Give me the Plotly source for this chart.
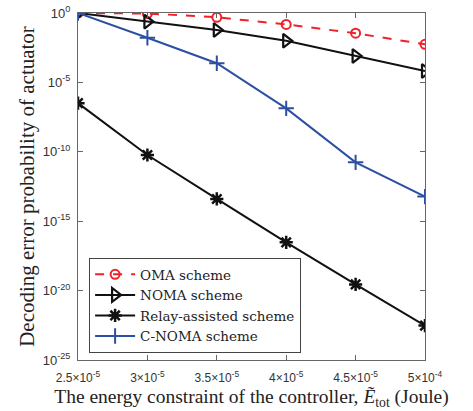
import plotly.graph_objects as go

x_vals = [2.5e-5, 3.0e-5, 3.5e-5, 4.0e-5, 4.5e-5, 5.0e-5]
x_tick_text = ["2.5×10<sup>-5</sup>", "3×10<sup>-5</sup>", "3.5×10<sup>-5</sup>",
               "4×10<sup>-5</sup>", "4.5×10<sup>-5</sup>", "5×10<sup>-4</sup>"]

oma = [1.0, 0.92, 0.49, 0.15, 0.035, 0.0055]
noma = [1.0, 0.24, 0.060, 0.010, 8.0e-4, 6.6e-5]
relay = [3.2e-7, 5.9e-11, 4.0e-14, 3.0e-17, 2.8e-20, 3.0e-23]
cnoma = [1.0, 0.0166, 2.4e-4, 1.35e-7, 1.74e-11, 5.9e-14]

y_tick_vals = [1e0, 1e-5, 1e-10, 1e-15, 1e-20, 1e-25]
y_tick_text = ["10<sup>0</sup>", "10<sup>-5</sup>", "10<sup>-10</sup>",
               "10<sup>-15</sup>", "10<sup>-20</sup>", "10<sup>-25</sup>"]

fig = go.Figure()
fig.add_trace(go.Scatter(x=x_vals, y=oma, name="OMA scheme", mode="lines+markers",
                         line=dict(color="#f2202a", width=2, dash="dash"),
                         marker=dict(symbol="circle-open", size=9, color="#f2202a",
                                     line=dict(width=2, color="#f2202a"))))
fig.add_trace(go.Scatter(x=x_vals, y=noma, name="NOMA scheme", mode="lines+markers",
                         line=dict(color="#111111", width=2),
                         marker=dict(symbol="triangle-right-open", size=12, color="#111111",
                                     line=dict(width=2.2, color="#111111"))))
fig.add_trace(go.Scatter(x=x_vals, y=relay, name="Relay-assisted scheme", mode="lines+markers",
                         line=dict(color="#111111", width=2),
                         marker=dict(symbol="asterisk-open", size=11, color="#111111",
                                     line=dict(width=2.5, color="#111111"))))
fig.add_trace(go.Scatter(x=x_vals, y=cnoma, name="C-NOMA scheme", mode="lines+markers",
                         line=dict(color="#2c4fa3", width=2),
                         marker=dict(symbol="cross-thin-open", size=11, color="#2c4fa3",
                                     line=dict(width=2, color="#2c4fa3"))))

axis_common = dict(showline=True, mirror="ticks", linecolor="#666666", linewidth=1,
                   ticks="inside", ticklen=5, tickcolor="#666666", showgrid=False,
                   zeroline=False, automargin=False)

fig.update_xaxes(range=[2.5e-5, 5.0e-5], tickvals=x_vals, ticktext=x_tick_text,
                 ticklabelstandoff=7,
                 tickfont=dict(family="Liberation Sans, Arial", size=12, color="#333333"),
                 title=dict(text="The energy constraint of the controller, <i>Ẽ</i><sub>tot</sub> (Joule)",
                            font=dict(family="Liberation Serif, DejaVu Serif", size=19.5, color="#222222"),
                            standoff=4),
                 **axis_common)
fig.update_yaxes(type="log", range=[-25, 0], tickvals=y_tick_vals, ticktext=y_tick_text,
                 ticklabelstandoff=4,
                 tickfont=dict(family="Liberation Sans, Arial", size=13, color="#333333"),
                 title=dict(text="Decoding error probability of actuator",
                            font=dict(family="Liberation Serif, DejaVu Serif", size=21, color="#222222"),
                            standoff=2),
                 **axis_common)

fig.update_layout(
    width=473, height=411,
    margin=dict(l=78, r=48, t=13, b=51),
    paper_bgcolor="white", plot_bgcolor="white",
    legend=dict(x=0.032, y=0.02, xanchor="left", yanchor="bottom",
                bgcolor="white", bordercolor="#444444", borderwidth=1,
                font=dict(family="DejaVu Serif", size=13.5, color="#222222"),
                tracegroupgap=0, itemwidth=40),
    showlegend=True,
)

fig.write_html("out.html")
